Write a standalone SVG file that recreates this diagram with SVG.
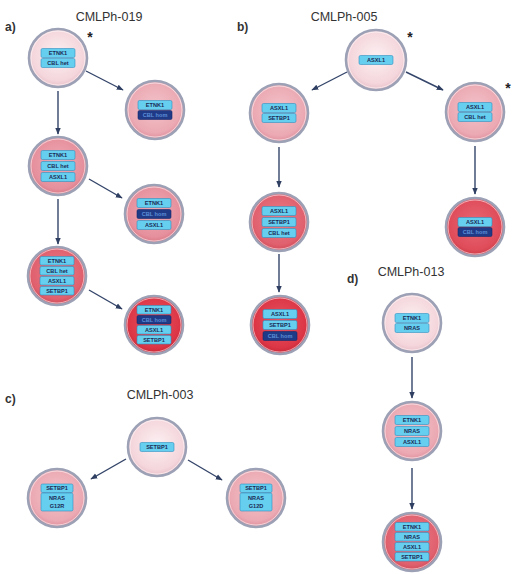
<svg xmlns="http://www.w3.org/2000/svg" width="520" height="574" viewBox="0 0 520 574">
<defs>
<radialGradient id="gL" cx="50%" cy="45%" r="55%"><stop offset="0" stop-color="#fcf0f2"/><stop offset="0.8" stop-color="#f4d6dc"/><stop offset="1" stop-color="#e9bfc8"/></radialGradient>
<radialGradient id="gP" cx="50%" cy="45%" r="55%"><stop offset="0" stop-color="#f3c3ca"/><stop offset="0.8" stop-color="#eba9b3"/><stop offset="1" stop-color="#df8f9c"/></radialGradient>
<radialGradient id="gM" cx="50%" cy="45%" r="55%"><stop offset="0" stop-color="#eeaab4"/><stop offset="0.8" stop-color="#e6909d"/><stop offset="1" stop-color="#d87684"/></radialGradient>
<radialGradient id="gR1" cx="50%" cy="45%" r="55%"><stop offset="0" stop-color="#ea7c88"/><stop offset="0.8" stop-color="#e0606e"/><stop offset="1" stop-color="#d04a58"/></radialGradient>
<radialGradient id="gR2" cx="50%" cy="45%" r="55%"><stop offset="0" stop-color="#e65462"/><stop offset="0.8" stop-color="#dc3646"/><stop offset="1" stop-color="#c82636"/></radialGradient>
<radialGradient id="gR3" cx="50%" cy="45%" r="55%"><stop offset="0" stop-color="#e96874"/><stop offset="0.8" stop-color="#df4c5a"/><stop offset="1" stop-color="#cc3a48"/></radialGradient>
<marker id="ah" viewBox="0 0 10 10" refX="9" refY="5" markerWidth="5" markerHeight="5" orient="auto"><path d="M0,1 L10,5 L0,9 z" fill="#2f3f62"/></marker>
</defs>
<style>
.ring{stroke:#9ca1b6;stroke-width:2.6}
.inner{fill:none;stroke:#ffffff;stroke-opacity:0.55;stroke-width:1}
.b{fill:#66cff0;stroke:#2f8ec0;stroke-width:0.6}
.h{fill:#1f3a86;stroke:#15296a;stroke-width:0.6}
.t{font-family:"Liberation Sans",Arial,sans-serif;font-size:5.6px;font-weight:bold;fill:#1b2b55;text-anchor:middle}
.th{font-family:"Liberation Sans",Arial,sans-serif;font-size:5.6px;font-weight:bold;fill:#5d8fd8;text-anchor:middle}
.title{font-family:"Liberation Sans",Arial,sans-serif;font-size:12.5px;fill:#333;text-anchor:middle}
.lab{font-family:"Liberation Sans",Arial,sans-serif;font-size:12px;font-weight:bold;fill:#333}
.star{font-family:"Liberation Sans",Arial,sans-serif;font-size:14px;font-weight:bold;fill:#222;text-anchor:middle}
.arr{stroke:#34456a;stroke-width:1.4;fill:none;marker-end:url(#ah)}
</style>
<rect width="520" height="574" fill="#ffffff"/>

<g id="titles">
<text class="lab" x="5" y="31">a)</text>
<text class="title" x="109" y="21">CMLPh-019</text>
<text class="lab" x="237" y="31">b)</text>
<text class="title" x="344" y="21">CMLPh-005</text>
<text class="lab" x="5" y="403">c)</text>
<text class="title" x="160" y="399">CMLPh-003</text>
<text class="lab" x="347" y="283">d)</text>
<text class="title" x="411" y="276">CMLPh-013</text>
<text class="star" x="90" y="42">*</text>
<text class="star" x="410" y="42">*</text>
<text class="star" x="508" y="93">*</text>
</g>

<g id="connectors">
<line class="arr" x1="86" y1="71" x2="123" y2="90"/>
<line class="arr" x1="58" y1="91" x2="58" y2="134"/>
<line class="arr" x1="89" y1="179" x2="122" y2="198"/>
<line class="arr" x1="58" y1="199" x2="58" y2="244"/>
<line class="arr" x1="89" y1="290" x2="122" y2="309"/>
<line class="arr" x1="347" y1="72" x2="312" y2="90"/>
<line class="arr" x1="406" y1="72" x2="443" y2="90"/>
<line class="arr" x1="279" y1="147" x2="279" y2="187"/>
<line class="arr" x1="279" y1="254" x2="279" y2="292"/>
<line class="arr" x1="475" y1="146" x2="475" y2="194"/>
<line class="arr" x1="126" y1="459" x2="91" y2="479"/>
<line class="arr" x1="188" y1="460" x2="222" y2="480"/>
<line class="arr" x1="412" y1="357" x2="412" y2="398"/>
<line class="arr" x1="412" y1="468" x2="412" y2="509"/>
</g>

<g id="A1" transform="translate(58,58)">
<circle r="29" fill="url(#gL)" class="ring"/><circle r="27" class="inner"/>
<rect class="b" x="-17" y="-9.5" width="34" height="9" rx="1.5"/><text class="t" y="-3">ETNK1</text>
<rect class="b" x="-17" y="0.5" width="34" height="9" rx="1.5"/><text class="t" y="7">CBL het</text>
</g>
<g id="A2" transform="translate(155,110)">
<circle r="29" fill="url(#gP)" class="ring"/><circle r="27" class="inner"/>
<rect class="b" x="-17" y="-9.5" width="34" height="9" rx="1.5"/><text class="t" y="-3">ETNK1</text>
<rect class="h" x="-17" y="0.5" width="34" height="9" rx="1.5"/><text class="th" y="7">CBL hom</text>
</g>
<g id="A3" transform="translate(58,166)">
<circle r="29" fill="url(#gM)" class="ring"/><circle r="27" class="inner"/>
<rect class="b" x="-17" y="-15.5" width="34" height="9" rx="1.5"/><text class="t" y="-9">ETNK1</text>
<rect class="b" x="-17" y="-4.5" width="34" height="9" rx="1.5"/><text class="t" y="2">CBL het</text>
<rect class="b" x="-17" y="6.5" width="34" height="9" rx="1.5"/><text class="t" y="13">ASXL1</text>
</g>
<g id="A4" transform="translate(154,214)">
<circle r="29" fill="url(#gM)" class="ring"/><circle r="27" class="inner"/>
<rect class="b" x="-17" y="-15.5" width="34" height="9" rx="1.5"/><text class="t" y="-9">ETNK1</text>
<rect class="h" x="-17" y="-4.5" width="34" height="9" rx="1.5"/><text class="th" y="2">CBL hom</text>
<rect class="b" x="-17" y="6.5" width="34" height="9" rx="1.5"/><text class="t" y="13">ASXL1</text>
</g>
<g id="A5" transform="translate(57,276)">
<circle r="29" fill="url(#gR1)" class="ring"/><circle r="27" class="inner"/>
<rect class="b" x="-17" y="-19.5" width="34" height="8.5" rx="1.5"/><text class="t" y="-13.3">ETNK1</text>
<rect class="b" x="-17" y="-9.5" width="34" height="8.5" rx="1.5"/><text class="t" y="-3.3">CBL het</text>
<rect class="b" x="-17" y="0.5" width="34" height="8.5" rx="1.5"/><text class="t" y="6.7">ASXL1</text>
<rect class="b" x="-17" y="10.5" width="34" height="8.5" rx="1.5"/><text class="t" y="16.7">SETBP1</text>
</g>
<g id="A6" transform="translate(154,325)">
<circle r="29" fill="url(#gR2)" class="ring"/><circle r="27" class="inner"/>
<rect class="b" x="-17" y="-19.5" width="34" height="8.5" rx="1.5"/><text class="t" y="-13.3">ETNK1</text>
<rect class="h" x="-17" y="-9.5" width="34" height="8.5" rx="1.5"/><text class="th" y="-3.3">CBL hom</text>
<rect class="b" x="-17" y="0.5" width="34" height="8.5" rx="1.5"/><text class="t" y="6.7">ASXL1</text>
<rect class="b" x="-17" y="10.5" width="34" height="8.5" rx="1.5"/><text class="t" y="16.7">SETBP1</text>
</g>

<g id="B1" transform="translate(376,60)">
<circle r="30" fill="url(#gL)" class="ring"/><circle r="28" class="inner"/>
<rect class="b" x="-17" y="-4.5" width="34" height="9" rx="1.5"/><text class="t" y="2">ASXL1</text>
</g>
<g id="B2" transform="translate(279,113)">
<circle r="29" fill="url(#gP)" class="ring"/><circle r="27" class="inner"/>
<rect class="b" x="-17" y="-9.5" width="34" height="9" rx="1.5"/><text class="t" y="-3">ASXL1</text>
<rect class="b" x="-17" y="0.5" width="34" height="9" rx="1.5"/><text class="t" y="7">SETBP1</text>
</g>
<g id="B3" transform="translate(475,112)">
<circle r="29" fill="url(#gP)" class="ring"/><circle r="27" class="inner"/>
<rect class="b" x="-17" y="-9.5" width="34" height="9" rx="1.5"/><text class="t" y="-3">ASXL1</text>
<rect class="b" x="-17" y="0.5" width="34" height="9" rx="1.5"/><text class="t" y="7">CBL het</text>
</g>
<g id="B4" transform="translate(279,222)">
<circle r="29" fill="url(#gR1)" class="ring"/><circle r="27" class="inner"/>
<rect class="b" x="-17" y="-15.5" width="34" height="9" rx="1.5"/><text class="t" y="-9">ASXL1</text>
<rect class="b" x="-17" y="-4.5" width="34" height="9" rx="1.5"/><text class="t" y="2">SETBP1</text>
<rect class="b" x="-17" y="6.5" width="34" height="9" rx="1.5"/><text class="t" y="13">CBL het</text>
</g>
<g id="B5" transform="translate(280,325)">
<circle r="29" fill="url(#gR2)" class="ring"/><circle r="27" class="inner"/>
<rect class="b" x="-17" y="-15.5" width="34" height="9" rx="1.5"/><text class="t" y="-9">ASXL1</text>
<rect class="b" x="-17" y="-4.5" width="34" height="9" rx="1.5"/><text class="t" y="2">SETBP1</text>
<rect class="h" x="-17" y="6.5" width="34" height="9" rx="1.5"/><text class="th" y="13">CBL hom</text>
</g>
<g id="B6" transform="translate(475,227)">
<circle r="29" fill="url(#gR3)" class="ring"/><circle r="27" class="inner"/>
<rect class="b" x="-17" y="-9.5" width="34" height="9" rx="1.5"/><text class="t" y="-3">ASXL1</text>
<rect class="h" x="-17" y="0.5" width="34" height="9" rx="1.5"/><text class="th" y="7">CBL hom</text>
</g>

<g id="C1" transform="translate(157,447)">
<circle r="29" fill="url(#gL)" class="ring"/><circle r="27" class="inner"/>
<rect class="b" x="-17" y="-4.5" width="34" height="9" rx="1.5"/><text class="t" y="2">SETBP1</text>
</g>
<g id="C2" transform="translate(57,498)">
<circle r="29" fill="url(#gP)" class="ring"/><circle r="27" class="inner"/>
<rect class="b" x="-16" y="-14" width="32" height="8.5" rx="1.5"/><text class="t" y="-7.8">SETBP1</text>
<rect class="b" x="-16" y="-5" width="32" height="18" rx="1.5"/><text class="t" y="2">NRAS</text><text class="t" y="10">G12R</text>
</g>
<g id="C3" transform="translate(256,498)">
<circle r="29" fill="url(#gP)" class="ring"/><circle r="27" class="inner"/>
<rect class="b" x="-16" y="-14" width="32" height="8.5" rx="1.5"/><text class="t" y="-7.8">SETBP1</text>
<rect class="b" x="-16" y="-5" width="32" height="18" rx="1.5"/><text class="t" y="2">NRAS</text><text class="t" y="10">G12D</text>
</g>

<g id="D1" transform="translate(412,323)">
<circle r="29" fill="url(#gL)" class="ring"/><circle r="27" class="inner"/>
<rect class="b" x="-17" y="-9.5" width="34" height="9" rx="1.5"/><text class="t" y="-3">ETNK1</text>
<rect class="b" x="-17" y="0.5" width="34" height="9" rx="1.5"/><text class="t" y="7">NRAS</text>
</g>
<g id="D2" transform="translate(412,431)">
<circle r="29" fill="url(#gP)" class="ring"/><circle r="27" class="inner"/>
<rect class="b" x="-17" y="-15.5" width="34" height="9" rx="1.5"/><text class="t" y="-9">ETNK1</text>
<rect class="b" x="-17" y="-4.5" width="34" height="9" rx="1.5"/><text class="t" y="2">NRAS</text>
<rect class="b" x="-17" y="6.5" width="34" height="9" rx="1.5"/><text class="t" y="13">ASXL1</text>
</g>
<g id="D3" transform="translate(412,542)">
<circle r="29" fill="url(#gR1)" class="ring"/><circle r="27" class="inner"/>
<rect class="b" x="-17" y="-19.5" width="34" height="8.5" rx="1.5"/><text class="t" y="-13.3">ETNK1</text>
<rect class="b" x="-17" y="-9.5" width="34" height="8.5" rx="1.5"/><text class="t" y="-3.3">NRAS</text>
<rect class="b" x="-17" y="0.5" width="34" height="8.5" rx="1.5"/><text class="t" y="6.7">ASXL1</text>
<rect class="b" x="-17" y="10.5" width="34" height="8.5" rx="1.5"/><text class="t" y="16.7">SETBP1</text>
</g>
</svg>
